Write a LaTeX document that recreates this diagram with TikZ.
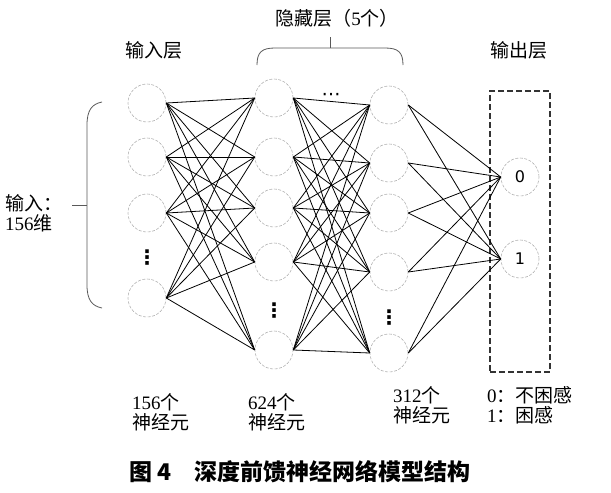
\documentclass[tikz,border=0pt]{standalone}
\usepackage{fontspec}
\setmainfont{Liberation Serif}
\newfontfamily\cjk{Noto Sans CJK SC}
\newfontfamily\numfont{DejaVu Sans}
\newcommand\dg[1]{{\rmfamily #1}}
\tikzset{
  neuron/.style={circle, draw=gray!60, dash pattern=on 3pt off 1.5pt, line width=0.6pt,
    minimum size=38pt, inner sep=0pt, font=\numfont\fontsize{16}{16}\selectfont},
  link/.style={line width=0.8pt, black},
  lab/.style={font=\cjk\fontsize{19}{20}\selectfont, inner sep=0pt, align=left},
  brc/.style={line width=0.8pt, black!65},
  outbox/.style={draw=black!80, line width=1.3pt, dash pattern=on 6pt off 3pt,
    minimum width=60pt, minimum height=281pt, inner sep=0pt},
  vdot/.style={font=\numfont\bfseries\fontsize{20}{20}\selectfont, inner sep=0pt},
}
\begin{document}
\begin{tikzpicture}[x=1pt, y=-1pt]
	\useasboundingbox (0,0) rectangle (611,493);
	% Input layer
	\node[neuron] (in1) at (147,103) {};
	\node[neuron] (in2) at (147,157) {};
	\node[neuron] (in3) at (147,213) {};
	\node[vdot] (indots) at (147,258) {⋮};
	\node[neuron] (in4) at (147,298) {};
	% First hidden layer
	\node[neuron] (ha1) at (274,98) {};
	\node[neuron] (ha2) at (274,157) {};
	\node[neuron] (ha3) at (274,208) {};
	\node[neuron] (ha4) at (274,262) {};
	\node[vdot] (hadots) at (274,311) {⋮};
	\node[neuron] (ha5) at (274,350) {};
	\node[vdot, font=\numfont\fontsize{19}{19}\selectfont] (hdots) at (331,97) {⋯};
	% Last hidden layer
	\node[neuron] (hb1) at (389,105) {};
	\node[neuron] (hb2) at (389,163) {};
	\node[neuron] (hb3) at (389,213) {};
	\node[neuron] (hb4) at (389,272) {};
	\node[vdot] (hbdots) at (389,318) {⋮};
	\node[neuron] (hb5) at (389,353) {};
	% Output layer
	\node[outbox] (obox) at (520,231.5) {};
	\node[neuron] (out1) at (520,177) {0};
	\node[neuron] (out2) at (520,259) {1};
	% Connections
	\foreach \a in {1,...,4}
		\foreach \b in {1,...,5}
			\draw[link] (in\a.east) -- (ha\b.west);
	\foreach \a in {1,...,5}
		\foreach \b in {1,...,5}
			\draw[link] (ha\a.east) -- (hb\b.west);
	\foreach \a in {1,...,5}
		\foreach \b in {1,2}
			\draw[link] (hb\a.east) -- (out\b.west);
	% Braces
	\draw[brc] (102,102) .. controls (92,104) and (87,110) .. (87,125) -- (87,285)
		.. controls (87,300) and (92,306) .. (102,308);
	\draw[brc] (72,205) -- (87,205);
	\draw[brc] (257,65) .. controls (257,52) and (262,48) .. (275,48) -- (385,48)
		.. controls (398,48) and (403,52) .. (403,65);
	\draw[brc] (330,48) -- (330,37);
	% Labels
	\node[lab] (hlab) at (337,18) {隐藏层（\dg{5}个）};
	\node[lab] (inlayer) at (154,50) {输入层};
	\node[lab] (outlayer) at (519,50) {输出层};
	\node[lab, anchor=west] (indim) at (5,213) {输入：\\\dg{156}维};
	\node[lab, anchor=west] (n1) at (132,412) {\dg{156}个\\神经元};
	\node[lab, anchor=west] (n2) at (248,412) {\dg{624}个\\神经元};
	\node[lab, anchor=west] (n3) at (393,405) {\dg{312}个\\神经元};
	\node[lab, anchor=west] (n4) at (487,405) {\dg{0}：不困感\\\dg{1}：困感};
	\node[font=\cjk\bfseries\fontsize{23}{24}\selectfont, inner sep=0pt] (cap) at (300,472)
		{图 4\quad 深度前馈神经网络模型结构};
\end{tikzpicture}
\end{document}
